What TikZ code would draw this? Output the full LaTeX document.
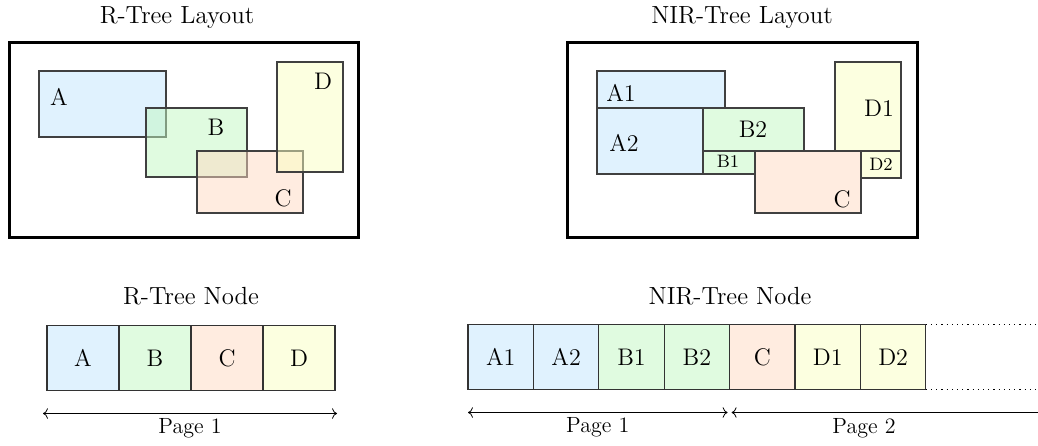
\documentclass[tikz,border=0pt]{standalone}
\usetikzlibrary{arrows.meta,positioning,calc}
\definecolor{paleA}{RGB}{224,242,254}
\definecolor{paleB}{RGB}{224,251,224}
\definecolor{paleC}{RGB}{255,236,224}
\definecolor{paleD}{RGB}{252,255,224}
\definecolor{deepA}{RGB}{193,229,253}
\definecolor{deepB}{RGB}{193,247,193}
\definecolor{deepC}{RGB}{255,217,193}
\definecolor{deepD}{RGB}{249,255,193}
\newcommand{\lbl}{\fontsize{12}{14}\selectfont}
\newcommand{\pglbl}{\fontsize{11}{13}\selectfont}
\tikzset{
  frame/.style={draw=black, line width=1.5pt},
  region/.style={draw=black!75, line width=0.6pt, fill opacity=0.5},
  cell/.style={draw=black!80, line width=0.6pt, inner sep=0pt, outer sep=0pt,
    minimum height=32.5pt, font=\lbl},
  span/.style={<->, line width=0.4pt},
  title/.style={font=\fontsize{12.4}{14}\selectfont},
}

\begin{document}
\begin{tikzpicture}[x=0.5pt,y=-0.5pt]
  \useasboundingbox (0,0) rectangle (1038,445);

  % R-tree layout
  \node[title] (rlt) at (177,18) {R-Tree Layout};
  \draw[frame] (9,42) rectangle (358,237);
  \draw[region, fill=deepA] (39,71) rectangle (166,137);
  \draw[region, fill=deepB] (146,108) rectangle (247,177);
  \draw[region, fill=deepC] (197,151) rectangle (303,213);
  \draw[region, fill=deepD] (277,62) rectangle (343,172);
  \node[font=\lbl] (la) at (59,97) {A};
  \node[font=\lbl] (lb) at (216,127) {B};
  \node[font=\lbl] (lc) at (283,198) {C};
  \node[font=\lbl] (ld) at (323,81) {D};

  % NIR-tree layout
  \node[title] (nlt) at (742,18) {NIR-Tree Layout};
  \draw[frame] (567,42) rectangle (917,237);
  \draw[region, fill=deepA] (597,71) rectangle (725,108);
  \draw[region, fill=deepA] (597,108) rectangle (703,174);
  \draw[region, fill=deepB] (703,108) rectangle (804,151);
  \draw[region, fill=deepB] (703,151) rectangle (755,174);
  \draw[region, fill=deepC] (755,151) rectangle (861,213);
  \draw[region, fill=deepD] (835,62) rectangle (901,151);
  \draw[region, fill=deepD] (861,151) rectangle (901,178);
  \node[font=\lbl] (na1) at (621,93) {A1};
  \node[font=\lbl] (na2) at (624,143) {A2};
  \node[font=\lbl] (nb2) at (753,129) {B2};
  \node[font=\small] (nb1) at (728,161) {B1};
  \node[font=\lbl] (nc) at (842,199) {C};
  \node[font=\lbl] (nd1) at (879,108) {D1};
  \node[font=\small] (nd2) at (881,164) {D2};

  % R-tree node
  \node[title] (rnt) at (191,296) {R-Tree Node};
  \foreach \lab/\col [count=\i] in {A/paleA,B/paleB,C/paleC,D/paleD}{
    \node[cell, fill=\col, minimum width=36pt] (r\i) at (83+72*\i-72,358) {\lab};
  }
  \coordinate (rp0) at ($(r1.south west)+(-4,23)$);
  \coordinate (rp1) at ($(r4.south east)+(2,23)$);
  \draw[span] (rp0) -- (rp1) node[midway, below=-1pt, font=\pglbl] (rpg) {Page 1};

  % NIR-tree node
  \node[title] (nnt) at (730,296) {NIR-Tree Node};
  \foreach \lab/\col [count=\i] in {A1/paleA,A2/paleA,B1/paleB,B2/paleB,C/paleC,D1/paleD,D2/paleD}{
    \node[cell, fill=\col, minimum width=32.7pt] (n\i) at (500.7+65.4*\i-65.4,357) {\lab};
  }
  \draw[dotted, line width=0.6pt] (n7.north east) -- ++(112,0);
  \draw[dotted, line width=0.6pt] (n7.south east) -- ++(112,0);
  \coordinate (np0) at ($(n1.south west)+(0,23)$);
  \coordinate (np1) at ($(n4.south east)+(-2,23)$);
  \coordinate (np2) at ($(n5.south west)+(2,23)$);
  \coordinate (np3) at (np2 -| 1038,0);
  \draw[span] (np0) -- (np1) node[midway, below=-1pt, font=\pglbl] (npg1) {Page 1};
  \draw[<-, line width=0.4pt] (np2) -- (np3);
  \node[below=-1pt, font=\pglbl] (npg2) at (864,413) {Page 2};
\end{tikzpicture}
\end{document}
